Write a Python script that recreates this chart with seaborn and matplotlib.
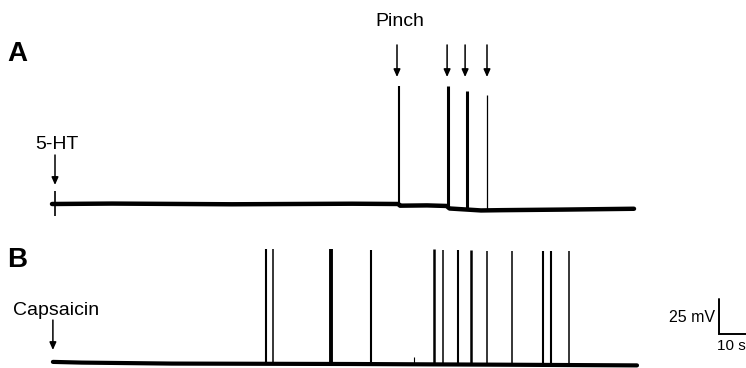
import numpy as np
import pandas as pd
import matplotlib
matplotlib.use("Agg")
import matplotlib.pyplot as plt
import seaborn as sns

# ---------------- data (time in s, potential in mV) ----------------
# Panel A: 5-HT application followed by pinch-evoked spikes
a_base_t = [0, 20, 60, 100, 115.5, 116, 125, 131.5, 132.5, 140, 143, 150, 170, 194]
a_base_v = [0, 0.3, -0.2, 0.2, 0.0, -1.2, -1.0, -1.4, -3.2, -4.2, -4.6, -4.4, -4.0, -3.4]
a_spike_t = [115.7, 132.0, 138.3, 145.0]
a_spike_peak = [84.3, 84.3, 80.7, 77.9]
a_artifact_t = 1.0
a_artifact_range = [-8.6, 9.3]
a_drug_t = 1.0          # 5-HT
a_pinch_t = [115.0, 131.7, 137.7, 145.0]

# Panel B: capsaicin application followed by spontaneous spikes
b_base_t = [0.3, 10, 40, 100, 150, 195]
b_base_v = [1.5, 1.0, 0.3, 0.0, -0.5, -1.0]
b_spike_t = [71.3, 73.7, 93.0, 106.3, 127.3, 130.3, 135.3, 139.7, 145.0,
             153.3, 163.7, 166.3, 172.3]
b_spike_peak = [82, 82, 82, 81.5, 82, 81.5, 81.5, 81.5, 81, 81, 80.5, 80.5, 80.5]
b_bump_t = 120.7
b_bump_peak = 5.0
b_drug_t = 0.3          # capsaicin

scale_mv = 25
scale_s = 10

# ---------------- styles ----------------
a_spike_lw = [1.5, 2.2, 2.2, 0.9]
b_spike_lw = [1.5, 1.1, 2.8, 1.5, 1.8, 1.1, 1.5, 1.8, 1.1, 1.1, 1.5, 1.5, 1.1]

sns.set_style("white")
plt.rcParams["font.family"] = ["Liberation Sans", "DejaVu Sans"]
plt.rcParams["text.color"] = "black"

W, H = 746, 368
fig = plt.figure(figsize=(W / 100, H / 100), dpi=100)
axA = fig.add_axes([0, 138 / H, 1, 230 / H])
axB = fig.add_axes([0, 0, 1, 138 / H])

xlim = (-52 / 3, (W - 52) / 3)
for ax in (axA, axB):
    ax.set_xlim(*xlim)
    ax.axis("off")
axA.set_ylim(-(230 - 204) / 1.4, 204 / 1.4)
axB.set_ylim(-(368 - 364) / 1.4, (364 - 230) / 1.4)

# ---- baselines ----
dfA = pd.DataFrame({"t": a_base_t, "mV": a_base_v})
dfB = pd.DataFrame({"t": b_base_t, "mV": b_base_v})
sns.lineplot(data=dfA, x="t", y="mV", ax=axA, color="black", lw=3.2,
             estimator=None, sort=False, legend=False)
sns.lineplot(data=dfB, x="t", y="mV", ax=axB, color="black", lw=3.0,
             estimator=None, sort=False, legend=False)


def base_at(t, bt, bv):
    return float(np.interp(t, bt, bv))


# ---- spikes ----
axA.vlines(a_spike_t, [base_at(t, a_base_t, a_base_v) for t in a_spike_t],
           a_spike_peak, colors="black", linewidths=a_spike_lw)
axA.vlines([a_artifact_t], [a_artifact_range[0]], [a_artifact_range[1]],
           colors="black", linewidths=1.2)
axB.vlines(b_spike_t, [base_at(t, b_base_t, b_base_v) for t in b_spike_t],
           b_spike_peak, colors="black", linewidths=b_spike_lw)
axB.vlines([b_bump_t], [0], [b_bump_peak], colors="black", linewidths=0.8)

# ---- arrows and labels ----
arrow_kw = dict(arrowstyle="-|>,head_length=0.45,head_width=0.2",
                color="black", lw=1.1, shrinkA=0, shrinkB=0)
for t in a_pinch_t:
    axA.annotate("", xy=(t, 90.7), xytext=(t, 113.6), arrowprops=arrow_kw)
axA.text(116, 127.1, "Pinch", ha="center", va="baseline", fontsize=14)

axA.annotate("", xy=(a_drug_t, 13.6), xytext=(a_drug_t, 35.0), arrowprops=arrow_kw)
axA.text(1.8, 39.3, "5-HT", ha="center", va="baseline", fontsize=14)

axB.annotate("", xy=(b_drug_t, 10.0), xytext=(b_drug_t, 31.4), arrowprops=arrow_kw)
axB.text(1.2, 35.0, "Capsaicin", ha="center", va="baseline", fontsize=14)

axA.text(-15, 107, "A", ha="left", va="center", fontsize=20, fontweight="bold")
axB.text(-15, 74.6, "B", ha="left", va="center", fontsize=20, fontweight="bold")

# ---- scale bar ----
sx0 = 222.3
sy0 = 21.4
axB.plot([sx0, sx0, sx0 + scale_s], [sy0 + scale_mv, sy0, sy0],
         color="black", lw=1.4, solid_joinstyle="miter", clip_on=True)
axB.text(sx0 - 1.3, sy0 + 11.5, f"{scale_mv} mV", ha="right", va="center",
         fontsize=11.5)
axB.text(sx0 - 0.6, sy0 - 3.3, f"{scale_s} s", ha="left", va="top",
         fontsize=11)

fig.savefig("out.png", dpi=100)
